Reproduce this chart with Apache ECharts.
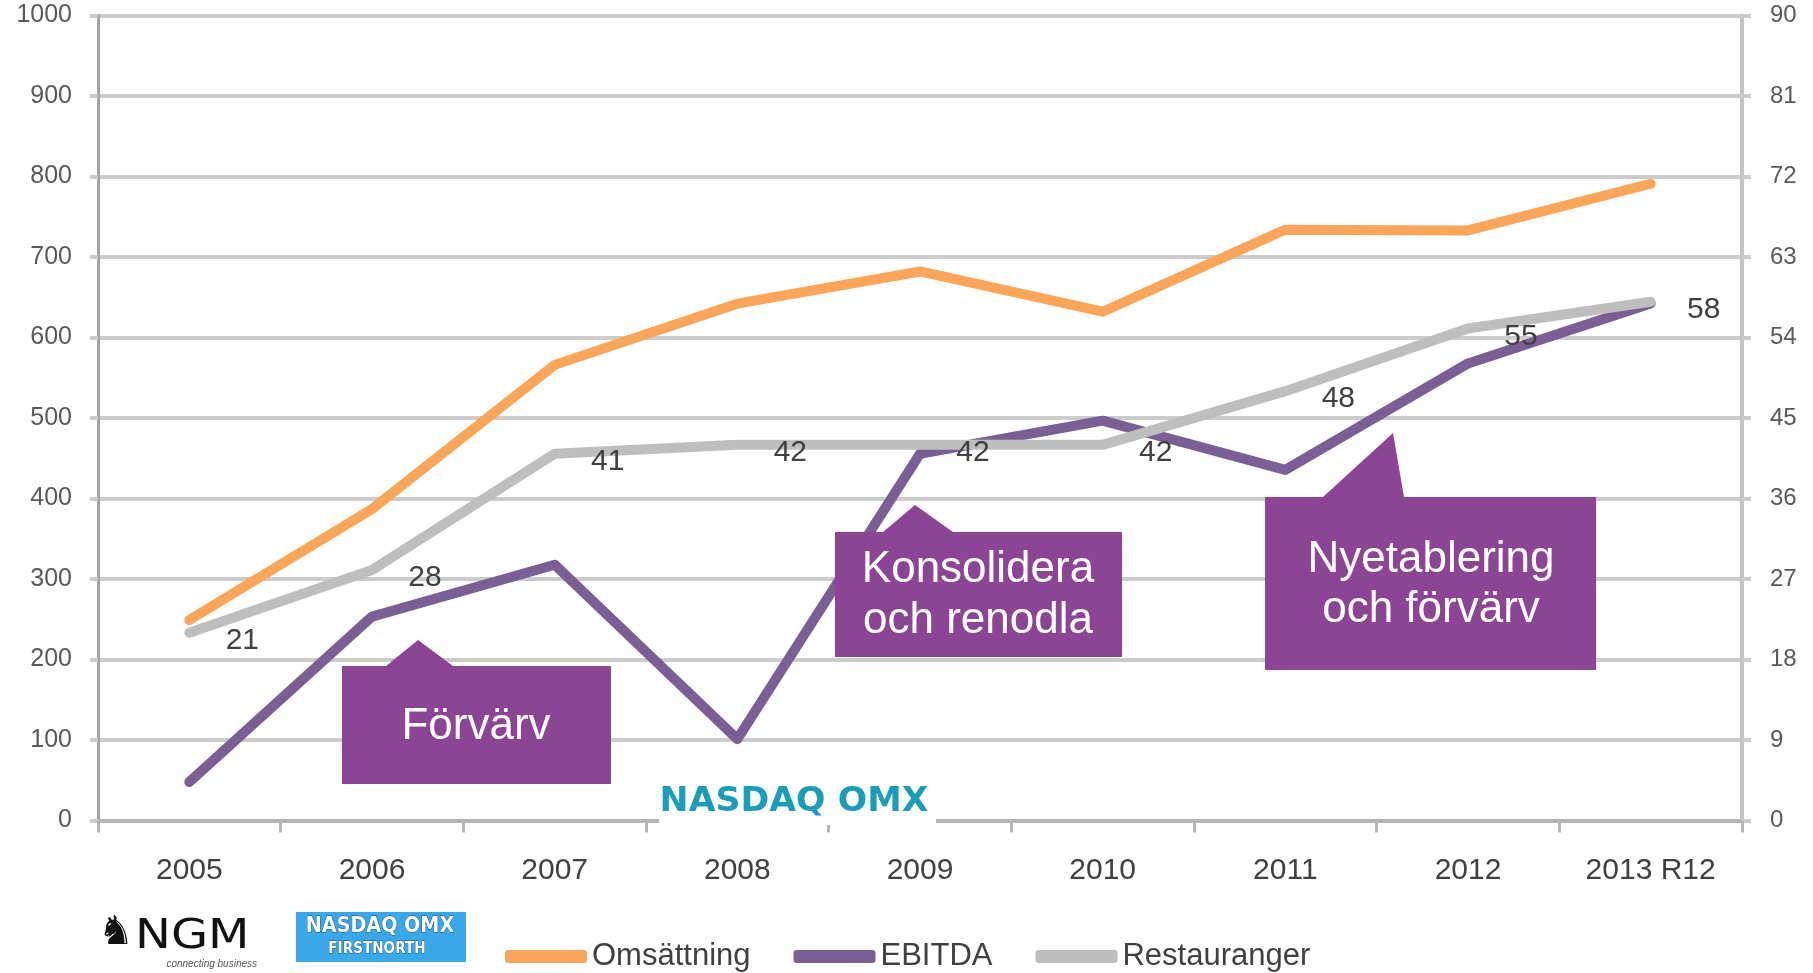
<!DOCTYPE html>
<html>
<head>
<meta charset="utf-8">
<script src="https://cdn.jsdelivr.net/npm/echarts@6/dist/echarts.min.js"></script>
<style>
  html, body { margin: 0; padding: 0; background: #fff; }
  #chart { width: 1813px; height: 973px; }
</style>
</head>
<body>
<div id="chart"></div>
<script>
// data
const years = ['2005', '2006', '2007', '2008', '2009', '2010', '2011', '2012', '2013 R12'];
const omsattning = [249, 387, 566, 642, 682, 632, 734, 733, 791];      // left axis
const ebitda = [4.3, 22.8, 28.6, 9.1, 41.0, 44.7, 39.2, 51.1, 57.8];   // right axis
const restauranger = [21, 28, 41, 42, 42, 42, 48, 55, 58];              // right axis

const FONT = '"Liberation Sans", Arial, sans-serif';
const PURPLE_BOX = '#8c4595';
const GRID_GRAY = '#cccccc';

const chart = echarts.init(document.getElementById('chart'));

// callout = box with a little pointer on the top edge
function callout(points) {
  return {
    type: 'polygon',
    z: 100,
    shape: { points: points },
    style: { fill: PURPLE_BOX }
  };
}
function label(text, x, y, font, fill, extra) {
  return Object.assign({
    type: 'text',
    z: 101,
    x: x,
    y: y,
    style: {
      text: text,
      font: font,
      fill: fill,
      align: 'center',
      textAlign: 'center',
      verticalAlign: 'middle',
      textVerticalAlign: 'middle'
    }
  }, extra || {});
}

const option = {
  animation: false,
  grid: { left: 98, right: 71, top: 15.5, bottom: 152.5 },
  legend: {
    data: ['Omsättning', 'EBITDA', 'Restauranger'],
    left: 500,
    top: 936,
    icon: 'roundRect',
    itemWidth: 82,
    itemHeight: 13,
    itemGap: 43,
    textStyle: { fontSize: 31, color: '#404040', fontFamily: FONT }
  },
  xAxis: {
    type: 'category',
    data: years,
    boundaryGap: true,
    axisLine: { lineStyle: { color: '#b5b5b5', width: 4 } },
    axisTick: { show: true, length: 12, lineStyle: { color: '#b5b5b5', width: 3 } },
    axisLabel: { fontSize: 30, color: '#404040', margin: 35, fontFamily: FONT }
  },
  yAxis: [
    {
      type: 'value',
      min: 0,
      max: 1000,
      interval: 100,
      position: 'left',
      axisLine: { show: true, lineStyle: { color: '#a3a3a3', width: 3 } },
      axisTick: { show: true, length: 8, lineStyle: { color: GRID_GRAY, width: 4 } },
      axisLabel: {
        fontSize: 25, color: '#595959', margin: 26, fontFamily: FONT,
        formatter: function (v) { return String(v); }
      },
      splitLine: { show: true, lineStyle: { color: GRID_GRAY, width: 4 } }
    },
    {
      type: 'value',
      min: 0,
      max: 90,
      interval: 9,
      position: 'right',
      axisLine: { show: true, lineStyle: { color: '#c4c4c4', width: 4 } },
      axisTick: { show: true, length: 9, lineStyle: { color: GRID_GRAY, width: 4 } },
      axisLabel: { fontSize: 24, color: '#595959', margin: 28, fontFamily: FONT },
      splitLine: { show: false }
    }
  ],
  series: [
    {
      name: 'Omsättning',
      type: 'line',
      yAxisIndex: 0,
      data: omsattning,
      color: '#f9a65a',
      symbol: 'none',
      lineStyle: { width: 10, cap: 'round', join: 'round' },
      emphasis: { disabled: true }
    },
    {
      name: 'EBITDA',
      type: 'line',
      yAxisIndex: 1,
      data: ebitda,
      color: '#7b5e93',
      symbol: 'none',
      lineStyle: { width: 10, cap: 'round', join: 'round' },
      emphasis: { disabled: true }
    },
    {
      name: 'Restauranger',
      type: 'line',
      yAxisIndex: 1,
      data: restauranger,
      color: '#bebebe',
      symbol: 'circle',
      symbolSize: 1,
      lineStyle: { width: 10, cap: 'round', join: 'round' },
      label: {
        show: true,
        position: 'inside',
        offset: [53, 8],
        fontSize: 30,
        color: '#404040',
        fontFamily: FONT
      },
      emphasis: { disabled: true }
    }
  ],
  graphic: [
    // callouts
    callout([[342, 666], [386, 666], [418, 640], [453, 666], [611, 666], [611, 784], [342, 784]]),
    label('Förvärv', 476, 727, '44px ' + FONT, '#fff'),
    callout([[835, 532], [883, 532], [915, 505], [953, 532], [1122, 532], [1122, 657], [835, 657]]),
    label('Konsolidera', 978, 570, '44px ' + FONT, '#fff'),
    label('och renodla', 978, 621, '44px ' + FONT, '#fff'),
    callout([[1265, 497], [1323, 497], [1393, 433], [1404, 497], [1596, 497], [1596, 670], [1265, 670]]),
    label('Nyetablering', 1431, 560, '44px ' + FONT, '#fff'),
    label('och förvärv', 1431, 610, '44px ' + FONT, '#fff'),

    // NASDAQ OMX logo sitting on the x axis
    { type: 'rect', z: 100, shape: { x: 659, y: 783, width: 277, height: 42 }, style: { fill: '#fff' } },
    label('NASDAQ OMX', 794, 802, 'bold 34px "DejaVu Sans"', '#1b9cb8', { scaleX: 1.02 }),

    // NGM logo
    label('♞', 116, 934, '40px "DejaVu Sans"', '#111'),
    {
      type: 'text', z: 101, x: 135, y: 938, scaleX: 1.2,
      style: { text: 'NGM', font: '40px "DejaVu Sans"', fill: '#111',
        align: 'left', textAlign: 'left', verticalAlign: 'middle', textVerticalAlign: 'middle' }
    },
    {
      type: 'text', z: 101, x: 257, y: 964,
      style: { text: 'connecting business', font: 'italic 10px ' + FONT, fill: '#555',
        align: 'right', textAlign: 'right', verticalAlign: 'middle', textVerticalAlign: 'middle' }
    },

    // NASDAQ OMX First North logo
    { type: 'rect', z: 100, shape: { x: 296, y: 912, width: 170, height: 50 }, style: { fill: '#3aa7e6' } },
    label('NASDAQ OMX', 380, 926, 'bold 22px "DejaVu Sans"', '#fff',
      { scaleX: 0.87, style: { text: 'NASDAQ OMX', font: 'bold 22px "DejaVu Sans"', fill: '#fff',
        stroke: '#24508f', lineWidth: 1, align: 'center', textAlign: 'center',
        verticalAlign: 'middle', textVerticalAlign: 'middle' } }),
    label('FIRSTNORTH', 377, 949, 'bold 16px "DejaVu Sans"', '#fff',
      { scaleX: 0.85, style: { text: 'FIRSTNORTH', font: 'bold 16px "DejaVu Sans"', fill: '#fff',
        stroke: '#24508f', lineWidth: 1, align: 'center', textAlign: 'center',
        verticalAlign: 'middle', textVerticalAlign: 'middle' } })
  ]
};

chart.setOption(option);
</script>
</body>
</html>
